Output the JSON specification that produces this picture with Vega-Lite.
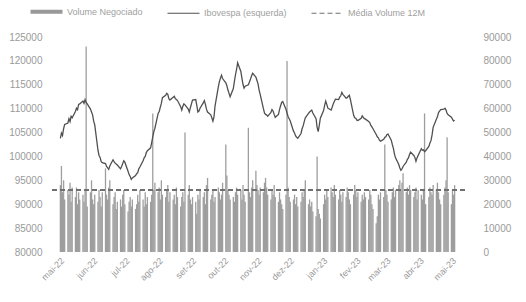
{
"$schema":"https://vega.github.io/schema/vega-lite/v6.json",
"width":415,"height":215,
"autosize":{"type":"none"},
"padding":{"left":50,"top":37,"right":61,"bottom":50},
"background":"white",
"config":{"view":{"stroke":null},"font":"Liberation Sans","axis":{"labelColor":"#9a9a9a","labelFontSize":10,"domain":false,"ticks":false,"grid":false,"title":null,"labelOverlap":false}},
"data":{"values":[
{"d":"2022-05-02","i":103800,"v":28000},{"d":"2022-05-03","i":104900,"v":36000},{"d":"2022-05-04","i":104400,"v":25000},{"d":"2022-05-05","i":105800,"v":30000},{"d":"2022-05-06","i":106700,"v":22000},
{"d":"2022-05-09","i":107000,"v":26000},{"d":"2022-05-10","i":107900,"v":24000},{"d":"2022-05-11","i":107300,"v":29000},{"d":"2022-05-12","i":108400,"v":21000},{"d":"2022-05-13","i":108100,"v":27000},
{"d":"2022-05-16","i":109400,"v":23000},{"d":"2022-05-17","i":110100,"v":27000},{"d":"2022-05-18","i":109800,"v":20000},{"d":"2022-05-19","i":110900,"v":25000},{"d":"2022-05-20","i":111000,"v":22000},
{"d":"2022-05-23","i":111600,"v":24000},{"d":"2022-05-24","i":111100,"v":21000},{"d":"2022-05-25","i":111900,"v":26000},{"d":"2022-05-26","i":111300,"v":86000},{"d":"2022-05-27","i":111000,"v":19000},
{"d":"2022-05-30","i":109900,"v":25000},{"d":"2022-05-31","i":109300,"v":30000},{"d":"2022-06-01","i":108700,"v":22000},{"d":"2022-06-02","i":107400,"v":20000},{"d":"2022-06-03","i":106600,"v":24000},
{"d":"2022-06-06","i":101300,"v":21000},{"d":"2022-06-07","i":100200,"v":26000},{"d":"2022-06-08","i":99800,"v":23000},{"d":"2022-06-09","i":98900,"v":19000},{"d":"2022-06-10","i":98700,"v":25000},
{"d":"2022-06-13","i":98500,"v":35000},{"d":"2022-06-14","i":97900,"v":24000},{"d":"2022-06-15","i":97600,"v":22000},{"d":"2022-06-16","i":97300,"v":27000},{"d":"2022-06-17","i":98000,"v":30000},
{"d":"2022-06-20","i":99300,"v":20000},{"d":"2022-06-21","i":98900,"v":23000},{"d":"2022-06-22","i":98600,"v":25000},{"d":"2022-06-23","i":98400,"v":18000},{"d":"2022-06-24","i":98200,"v":21000},
{"d":"2022-06-27","i":97400,"v":22000},{"d":"2022-06-28","i":97900,"v":19000},{"d":"2022-06-29","i":98500,"v":24000},{"d":"2022-06-30","i":99100,"v":26000},{"d":"2022-07-01","i":98800,"v":20000},
{"d":"2022-07-04","i":96900,"v":17000},{"d":"2022-07-05","i":96200,"v":21000},{"d":"2022-07-06","i":95800,"v":23000},{"d":"2022-07-07","i":95200,"v":19000},{"d":"2022-07-08","i":95500,"v":22000},
{"d":"2022-07-11","i":96000,"v":18000},{"d":"2022-07-12","i":96400,"v":20000},{"d":"2022-07-13","i":96600,"v":24000},{"d":"2022-07-14","i":97400,"v":21000},{"d":"2022-07-15","i":97800,"v":26000},
{"d":"2022-07-18","i":99100,"v":22000},{"d":"2022-07-19","i":99700,"v":19000},{"d":"2022-07-20","i":100000,"v":25000},{"d":"2022-07-21","i":100800,"v":20000},{"d":"2022-07-22","i":101200,"v":23000},
{"d":"2022-07-25","i":101800,"v":21000},{"d":"2022-07-26","i":102900,"v":24000},{"d":"2022-07-27","i":104100,"v":58000},{"d":"2022-07-28","i":105200,"v":26000},{"d":"2022-07-29","i":105900,"v":29000},
{"d":"2022-08-01","i":109000,"v":25000},{"d":"2022-08-02","i":109400,"v":27000},{"d":"2022-08-03","i":110300,"v":22000},{"d":"2022-08-04","i":111100,"v":30000},{"d":"2022-08-05","i":112300,"v":24000},
{"d":"2022-08-08","i":112800,"v":23000},{"d":"2022-08-09","i":113200,"v":26000},{"d":"2022-08-10","i":113000,"v":28000},{"d":"2022-08-11","i":112100,"v":21000},{"d":"2022-08-12","i":111800,"v":25000},
{"d":"2022-08-15","i":112400,"v":22000},{"d":"2022-08-16","i":112600,"v":24000},{"d":"2022-08-17","i":112100,"v":20000},{"d":"2022-08-18","i":111900,"v":27000},{"d":"2022-08-19","i":111700,"v":23000},
{"d":"2022-08-22","i":110400,"v":19000},{"d":"2022-08-23","i":109700,"v":23000},{"d":"2022-08-24","i":110500,"v":25000},{"d":"2022-08-25","i":111000,"v":21000},{"d":"2022-08-26","i":110800,"v":50000},
{"d":"2022-08-29","i":109900,"v":24000},{"d":"2022-08-30","i":109300,"v":28000},{"d":"2022-08-31","i":110200,"v":22000},{"d":"2022-09-01","i":111000,"v":20000},{"d":"2022-09-02","i":111800,"v":23000},
{"d":"2022-09-05","i":111900,"v":21000},{"d":"2022-09-06","i":110700,"v":16000},{"d":"2022-09-07","i":109300,"v":24000},{"d":"2022-09-08","i":109500,"v":22000},{"d":"2022-09-09","i":110100,"v":26000},
{"d":"2022-09-12","i":111200,"v":23000},{"d":"2022-09-13","i":111700,"v":25000},{"d":"2022-09-14","i":110900,"v":20000},{"d":"2022-09-15","i":109900,"v":28000},{"d":"2022-09-16","i":109300,"v":31000},
{"d":"2022-09-19","i":108700,"v":22000},{"d":"2022-09-20","i":108100,"v":24000},{"d":"2022-09-21","i":107400,"v":26000},{"d":"2022-09-22","i":108300,"v":21000},{"d":"2022-09-23","i":110600,"v":23000},
{"d":"2022-09-26","i":114500,"v":27000},{"d":"2022-09-27","i":115600,"v":25000},{"d":"2022-09-28","i":116400,"v":22000},{"d":"2022-09-29","i":117000,"v":24000},{"d":"2022-09-30","i":116300,"v":29000},
{"d":"2022-10-03","i":115400,"v":45000},{"d":"2022-10-04","i":114800,"v":32000},{"d":"2022-10-05","i":113900,"v":26000},{"d":"2022-10-06","i":113200,"v":24000},{"d":"2022-10-07","i":112500,"v":22000},
{"d":"2022-10-10","i":114200,"v":23000},{"d":"2022-10-11","i":115700,"v":21000},{"d":"2022-10-12","i":117100,"v":25000},{"d":"2022-10-13","i":118200,"v":27000},{"d":"2022-10-14","i":119600,"v":24000},
{"d":"2022-10-17","i":117800,"v":26000},{"d":"2022-10-18","i":116400,"v":22000},{"d":"2022-10-19","i":115100,"v":28000},{"d":"2022-10-20","i":114300,"v":24000},{"d":"2022-10-21","i":114700,"v":21000},
{"d":"2022-10-24","i":115000,"v":52000},{"d":"2022-10-25","i":115600,"v":25000},{"d":"2022-10-26","i":116200,"v":23000},{"d":"2022-10-27","i":116900,"v":27000},{"d":"2022-10-28","i":117400,"v":30000},
{"d":"2022-10-31","i":116600,"v":34000},{"d":"2022-11-01","i":115900,"v":28000},{"d":"2022-11-02","i":115200,"v":26000},{"d":"2022-11-03","i":113900,"v":24000},{"d":"2022-11-04","i":113000,"v":27000},
{"d":"2022-11-07","i":110000,"v":25000},{"d":"2022-11-08","i":109100,"v":29000},{"d":"2022-11-09","i":108800,"v":31000},{"d":"2022-11-10","i":108700,"v":27000},{"d":"2022-11-11","i":108400,"v":24000},
{"d":"2022-11-14","i":109200,"v":22000},{"d":"2022-11-15","i":109800,"v":26000},{"d":"2022-11-16","i":109500,"v":24000},{"d":"2022-11-17","i":108800,"v":28000},{"d":"2022-11-18","i":108200,"v":23000},
{"d":"2022-11-21","i":108800,"v":21000},{"d":"2022-11-22","i":109800,"v":25000},{"d":"2022-11-23","i":110600,"v":22000},{"d":"2022-11-24","i":111300,"v":20000},{"d":"2022-11-25","i":111500,"v":18000},
{"d":"2022-11-28","i":109900,"v":24000},{"d":"2022-11-29","i":109100,"v":80000},{"d":"2022-11-30","i":108300,"v":27000},{"d":"2022-12-01","i":107900,"v":23000},{"d":"2022-12-02","i":107400,"v":21000},
{"d":"2022-12-05","i":105300,"v":22000},{"d":"2022-12-06","i":104900,"v":24000},{"d":"2022-12-07","i":104300,"v":20000},{"d":"2022-12-08","i":104000,"v":23000},{"d":"2022-12-09","i":103800,"v":19000},
{"d":"2022-12-12","i":104800,"v":21000},{"d":"2022-12-13","i":105800,"v":25000},{"d":"2022-12-14","i":106400,"v":23000},{"d":"2022-12-15","i":107300,"v":26000},{"d":"2022-12-16","i":108100,"v":30000},
{"d":"2022-12-19","i":109000,"v":20000},{"d":"2022-12-20","i":109300,"v":22000},{"d":"2022-12-21","i":109500,"v":19000},{"d":"2022-12-22","i":109700,"v":21000},{"d":"2022-12-23","i":109100,"v":17000},
{"d":"2022-12-26","i":107900,"v":15000},{"d":"2022-12-27","i":106100,"v":40000},{"d":"2022-12-28","i":105200,"v":18000},{"d":"2022-12-29","i":106500,"v":16000},{"d":"2022-12-30","i":108000,"v":14000},
{"d":"2023-01-02","i":109600,"v":20000},{"d":"2023-01-03","i":110700,"v":24000},{"d":"2023-01-04","i":111600,"v":22000},{"d":"2023-01-05","i":110900,"v":26000},{"d":"2023-01-06","i":110100,"v":23000},
{"d":"2023-01-09","i":109700,"v":27000},{"d":"2023-01-10","i":110300,"v":25000},{"d":"2023-01-11","i":111000,"v":23000},{"d":"2023-01-12","i":111500,"v":28000},{"d":"2023-01-13","i":112000,"v":24000},
{"d":"2023-01-16","i":111900,"v":22000},{"d":"2023-01-17","i":112400,"v":26000},{"d":"2023-01-18","i":112700,"v":24000},{"d":"2023-01-19","i":113400,"v":21000},{"d":"2023-01-20","i":113000,"v":25000},
{"d":"2023-01-23","i":112200,"v":23000},{"d":"2023-01-24","i":112300,"v":27000},{"d":"2023-01-25","i":112600,"v":25000},{"d":"2023-01-26","i":112800,"v":22000},{"d":"2023-01-27","i":111900,"v":20000},
{"d":"2023-01-30","i":108600,"v":24000},{"d":"2023-01-31","i":108100,"v":28000},{"d":"2023-02-01","i":108000,"v":26000},{"d":"2023-02-02","i":107600,"v":23000},{"d":"2023-02-03","i":107500,"v":25000},
{"d":"2023-02-06","i":108000,"v":21000},{"d":"2023-02-07","i":108500,"v":24000},{"d":"2023-02-08","i":108200,"v":22000},{"d":"2023-02-09","i":107900,"v":25000},{"d":"2023-02-10","i":107800,"v":23000},
{"d":"2023-02-13","i":107300,"v":22000},{"d":"2023-02-14","i":107100,"v":26000},{"d":"2023-02-15","i":106500,"v":24000},{"d":"2023-02-16","i":106200,"v":20000},{"d":"2023-02-17","i":105800,"v":18000},
{"d":"2023-02-20","i":104600,"v":12000},{"d":"2023-02-21","i":104100,"v":15000},{"d":"2023-02-22","i":103900,"v":24000},{"d":"2023-02-23","i":103400,"v":22000},{"d":"2023-02-24","i":103200,"v":25000},
{"d":"2023-02-27","i":103600,"v":23000},{"d":"2023-02-28","i":104000,"v":45000},{"d":"2023-03-01","i":104100,"v":26000},{"d":"2023-03-02","i":104600,"v":24000},{"d":"2023-03-03","i":104700,"v":21000},
{"d":"2023-03-06","i":103400,"v":22000},{"d":"2023-03-07","i":102500,"v":25000},{"d":"2023-03-08","i":101700,"v":27000},{"d":"2023-03-09","i":100500,"v":23000},{"d":"2023-03-10","i":99700,"v":26000},
{"d":"2023-03-13","i":98300,"v":28000},{"d":"2023-03-14","i":97600,"v":30000},{"d":"2023-03-15","i":97100,"v":26000},{"d":"2023-03-16","i":97400,"v":29000},{"d":"2023-03-17","i":97900,"v":33000},
{"d":"2023-03-20","i":98800,"v":25000},{"d":"2023-03-21","i":99400,"v":27000},{"d":"2023-03-22","i":99700,"v":24000},{"d":"2023-03-23","i":100400,"v":28000},{"d":"2023-03-24","i":100900,"v":26000},
{"d":"2023-03-27","i":100200,"v":23000},{"d":"2023-03-28","i":99800,"v":25000},{"d":"2023-03-29","i":99000,"v":27000},{"d":"2023-03-30","i":99700,"v":22000},{"d":"2023-03-31","i":100200,"v":26000},
{"d":"2023-04-03","i":101600,"v":24000},{"d":"2023-04-04","i":101300,"v":22000},{"d":"2023-04-05","i":101400,"v":26000},{"d":"2023-04-06","i":101000,"v":58000},{"d":"2023-04-07","i":101200,"v":20000},
{"d":"2023-04-10","i":102100,"v":23000},{"d":"2023-04-11","i":102800,"v":27000},{"d":"2023-04-12","i":103300,"v":25000},{"d":"2023-04-13","i":104500,"v":24000},{"d":"2023-04-14","i":106100,"v":28000},
{"d":"2023-04-17","i":107800,"v":26000},{"d":"2023-04-18","i":108300,"v":29000},{"d":"2023-04-19","i":109200,"v":25000},{"d":"2023-04-20","i":109500,"v":22000},{"d":"2023-04-21","i":109800,"v":20000},
{"d":"2023-04-24","i":109900,"v":24000},{"d":"2023-04-25","i":110100,"v":27000},{"d":"2023-04-26","i":109700,"v":30000},{"d":"2023-04-27","i":109000,"v":48000},{"d":"2023-04-28","i":108700,"v":25000},
{"d":"2023-05-01","i":108200,"v":20000},{"d":"2023-05-02","i":107800,"v":26000},{"d":"2023-05-03","i":107400,"v":24000},{"d":"2023-05-04","i":107600,"v":28000}
]},
"layer":[
 {"layer":[
  {"mark":{"type":"bar","width":1.3,"opacity":0.95},
   "encoding":{
    "x":{"field":"d","type":"temporal","scale":{"type":"utc","domain":["2022-04-27","2023-05-09"]},
         "axis":{"orient":"bottom","labelAngle":-45,"labelFontSize":9,"labelPadding":4,"tickCount":{"interval":"month","step":1},
                 "labelExpr":"['jan','fev','mar','abr','mai','jun','jul','ago','set','out','nov','dez'][utcmonth(datum.value)] + '-' + utcFormat(datum.value, '%y')"}},
    "y":{"field":"v","type":"quantitative","scale":{"domain":[0,90000]},
         "axis":{"orient":"right","values":[0,10000,20000,30000,40000,50000,60000,70000,80000,90000],"format":"d","labelPadding":18}},
    "color":{"datum":"Volume Negociado","type":"nominal",
      "scale":{"domain":["Volume Negociado","Ibovespa (esquerda)","Média Volume 12M"],"range":["#999999","#505050","#707070"]},
      "legend":{"orient":"none","legendX":-8,"legendY":-30,"direction":"horizontal","title":null,
        "symbolType":"stroke","symbolSize":1024,"labelFontSize":9,"labelColor":"#a0a0a0","labelOffset":16,"columnPadding":22,
        "encode":{"symbols":{"update":{
          "strokeDash":{"signal":"datum.label === 'Média Volume 12M' ? [5,3] : [1,0]"},
          "strokeWidth":{"signal":"datum.label === 'Volume Negociado' ? 4 : 1.2"}}}}}}
   }},
  {"mark":{"type":"rule","strokeDash":[5,3],"strokeWidth":1},
   "encoding":{"y":{"datum":26000,"type":"quantitative",
         "axis":{"orient":"right","values":[0,10000,20000,30000,40000,50000,60000,70000,80000,90000],"format":"d","labelPadding":18}},
    "color":{"datum":"Média Volume 12M","type":"nominal",
      "legend":{"orient":"none","legendX":-8,"legendY":-30,"direction":"horizontal","title":null,
        "symbolType":"stroke","symbolSize":1024,"labelFontSize":9,"labelColor":"#a0a0a0","labelOffset":16,"columnPadding":22,
        "encode":{"symbols":{"update":{
          "strokeDash":{"signal":"datum.label === 'Média Volume 12M' ? [5,3] : [1,0]"},
          "strokeWidth":{"signal":"datum.label === 'Volume Negociado' ? 4 : 1.2"}}}}}}}}
 ]},
 {"mark":{"type":"line","strokeWidth":1.3},
  "encoding":{
   "x":{"field":"d","type":"temporal"},
   "y":{"field":"i","type":"quantitative","scale":{"domain":[80000,125000]},
        "axis":{"orient":"left","values":[80000,85000,90000,95000,100000,105000,110000,115000,120000,125000],"format":"d","labelPadding":8}},
   "color":{"datum":"Ibovespa (esquerda)","type":"nominal",
      "legend":{"orient":"none","legendX":-8,"legendY":-30,"direction":"horizontal","title":null,
        "symbolType":"stroke","symbolSize":1024,"labelFontSize":9,"labelColor":"#a0a0a0","labelOffset":16,"columnPadding":22,
        "encode":{"symbols":{"update":{
          "strokeDash":{"signal":"datum.label === 'Média Volume 12M' ? [5,3] : [1,0]"},
          "strokeWidth":{"signal":"datum.label === 'Volume Negociado' ? 4 : 1.2"}}}}}}
  }}
],
"resolve":{"scale":{"y":"independent"}}
}
